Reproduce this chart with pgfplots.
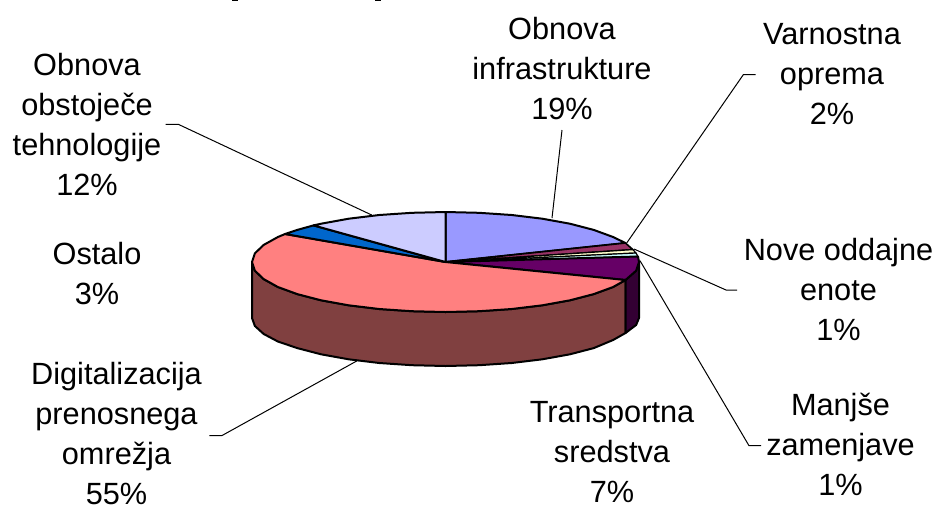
\documentclass[border=0pt]{standalone}
\usepackage{fontspec}
\setmainfont{Liberation Sans}
\usepackage{pgfplots}
\pgfplotsset{compat=1.18}

\definecolor{infra}{HTML}{9999FF}
\definecolor{varn}{HTML}{993366}
\definecolor{nove}{HTML}{FFFFCC}
\definecolor{manj}{HTML}{CCFFFF}
\definecolor{trans}{HTML}{660066}
\definecolor{transd}{HTML}{330033}
\definecolor{digi}{HTML}{FF8080}
\definecolor{digid}{HTML}{804040}
\definecolor{osta}{HTML}{0066CC}
\definecolor{obst}{HTML}{CCCCFF}

\begin{document}
\begin{tikzpicture}
\useasboundingbox (0,0) rectangle (936pt,507pt);
\begin{axis}[
  at={(0,0)}, anchor=south west,
  scale only axis, width=936pt, height=507pt,
  xmin=0, xmax=936, ymin=0, ymax=507, y dir=reverse,
  hide axis, clip=false,
  every axis plot/.append style={no markers, line join=round},
  ]
% side walls, pixel positions of the 3-D pie
\addplot[fill=digid, draw=black, line width=2pt] coordinates {
 (625.5,280) (613.1,287) (593.7,294.1) (569.9,300.3) (542.3,305.3) (511.7,309)
 (479.1,311.2) (445.5,312) (411.9,311.2) (379.3,309) (348.7,305.3) (321.1,300.3)
 (297.3,294.1) (277.9,287) (263.7,279.1) (254.9,270.7) (252,262)
 (252,318) (254.9,326) (263.7,334) (277.9,341.5) (297.3,348.1) (321.1,354.3)
 (348.7,359.3) (379.3,363) (411.9,365.2) (445.5,366) (479.1,365.2) (511.7,363)
 (542.3,359.3) (569.9,354.3) (593.7,348.1) (613.1,340) (625.5,333)} --cycle;
\addplot[fill=transd, draw=black, line width=2pt] coordinates {
 (639,262) (636.1,270.7) (625.5,280) (625.5,333) (636.1,325) (639,318)} --cycle;
% top slices
\addplot[fill=infra, draw=black, line width=2pt] coordinates {
 (445.5,262) (445.5,212) (479.1,212.8) (511.7,215) (542.3,218.7) (569.9,223.7)
 (593.7,229.9) (613.1,237) (625.4,243)} --cycle;
\addplot[fill=varn, draw=black, line width=1.6pt] coordinates {
 (445.5,262) (625.4,243) (632.9,249.6)} --cycle;
\addplot[fill=nove, draw=black, line width=1.2pt] coordinates {
 (445.5,262) (632.9,249.6) (636,253)} --cycle;
\addplot[fill=manj, draw=black, line width=1.2pt] coordinates {
 (445.5,262) (636,253) (638,256.5)} --cycle;
\addplot[fill=trans, draw=black, line width=2pt] coordinates {
 (445.5,262) (638,256.5) (639,262) (636.1,270.7) (625.5,280)} --cycle;
\addplot[fill=digi, draw=black, line width=2pt] coordinates {
 (445.5,262) (625.5,280) (613.1,287) (593.7,294.1) (569.9,300.3) (542.3,305.3)
 (511.7,309) (479.1,311.2) (445.5,312) (411.9,311.2) (379.3,309) (348.7,305.3)
 (321.1,300.3) (297.3,294.1) (277.9,287) (263.7,279.1) (254.9,270.7) (252,262)
 (254.9,253.3) (263.7,244.9) (277.9,237) (285.1,234)} --cycle;
\addplot[fill=osta, draw=black, line width=2pt] coordinates {
 (445.5,262) (285.1,234) (297.3,229.9) (313.5,225.4)} --cycle;
\addplot[fill=obst, draw=black, line width=2pt] coordinates {
 (445.5,262) (313.5,225.4) (321.1,223.7) (348.7,218.7) (379.3,215) (411.9,212.8)
 (445.5,212)} --cycle;
% leader lines
\addplot[black, line width=1pt] coordinates {(562,130) (552,218)};
\addplot[black, line width=1pt] coordinates {(755.7,74.7) (743.3,74.7) (626.7,243)};
\addplot[black, line width=1pt] coordinates {(737,290) (726,290) (634,249)};
\addplot[black, line width=1pt] coordinates {(761,445.7) (749,445.7) (640,260.7)};
\addplot[black, line width=1pt] coordinates {(209.3,435.7) (221.7,435.7) (356.7,361)};
\addplot[black, line width=1pt] coordinates {(165.7,124.3) (178.3,124.3) (371.7,215)};
% the title is cut off by the top edge, only two descender tips are left
\addplot[black, line width=1.5pt, line cap=butt] coordinates {(232,0.4) (238,0.4)};
\addplot[black, line width=1.5pt, line cap=butt] coordinates {(375,0.4) (381,0.4)};
% labels
\tikzset{lab/.style={align=center, font=\fontsize{30.7}{40}\selectfont, inner sep=0pt}}
\node[lab] at (axis cs:562,69) {Obnova\\infrastrukture\\19\%};
\node[lab] at (axis cs:832,74) {Varnostna\\oprema\\2\%};
\node[lab] at (axis cs:838.5,289) {Nove oddajne\\enote\\1\%};
\node[lab] at (axis cs:840.5,444) {Manjše\\zamenjave\\1\%};
\node[lab] at (axis cs:612,452) {Transportna\\sredstva\\7\%};
\node[lab] at (axis cs:116.5,434) {Digitalizacija\\prenosnega\\omrežja\\55\%};
\node[lab] at (axis cs:97,273.5) {Ostalo\\3\%};
\node[lab] at (axis cs:87,124) {Obnova\\obstoječe\\tehnologije\\12\%};
\end{axis}
\end{tikzpicture}
\end{document}
